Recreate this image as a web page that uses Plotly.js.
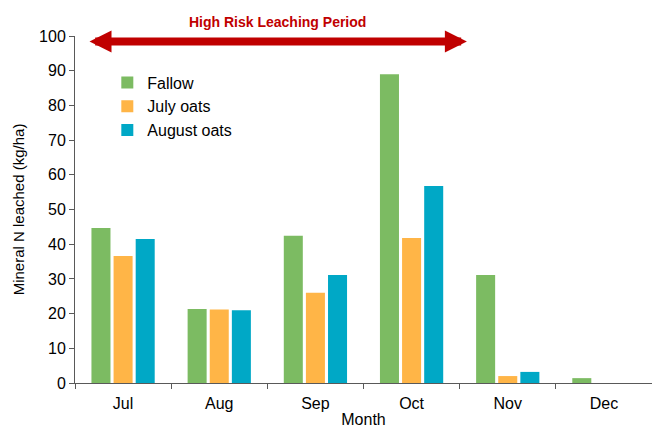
<!DOCTYPE html>
<html>
<head>
<meta charset="utf-8">
<script src="https://cdn.plot.ly/plotly-3.0.1.min.js"></script>
<style>html,body{margin:0;padding:0;background:#fff}#chart{width:652px;height:428px}</style>
</head>
<body>
<div id="chart"></div>
<script>
const months = ["Jul", "Aug", "Sep", "Oct", "Nov", "Dec"];
const fallow = [44.7, 21.3, 42.4, 89.0, 31.1, 1.4];
const julyOats = [36.6, 21.2, 26.0, 41.8, 2.0, 0];
const augustOats = [41.5, 21.0, 31.1, 56.8, 3.2, 0];
const seriesNames = ["Fallow", "July oats", "August oats"];
const colors = ["#7CBB62", "#FFB547", "#00A8C6"];

const data = [fallow, julyOats, augustOats].map((v, i) => ({
  type: "bar", x: months, y: v, name: seriesNames[i],
  marker: {color: colors[i]}, hoverinfo: "x+y+name"
}));

const fam = "Liberation Sans, Arial, sans-serif";
const layout = {
  width: 652, height: 428,
  margin: {l: 75, r: 0, t: 36, b: 45},
  paper_bgcolor: "#fff", plot_bgcolor: "#fff",
  font: {family: fam, size: 16, color: "#000"},
  barmode: "group", bargap: 0.31, bargroupgap: 0.14,
  showlegend: true,
  legend: {x: 0.056, y: 0.915, xanchor: "left", yanchor: "top", bgcolor: "rgba(0,0,0,0)",
           font: {family: fam, size: 16, color: "#000"}, tracegroupgap: 0},
  xaxis: {
    type: "category", range: [-0.5, 5.5], tickson: "boundaries",
    ticks: "outside", ticklen: 5, tickcolor: "#595959",
    showline: true, linecolor: "#595959", linewidth: 1,
    showgrid: false, zeroline: false, ticklabelstandoff: 6,
    tickfont: {family: fam, size: 16, color: "#000"},
    title: {text: "Month", standoff: 8, font: {family: fam, size: 16, color: "#000"}}
  },
  yaxis: {
    range: [0, 100], dtick: 10, ticks: "outside", ticklen: 5, tickcolor: "#595959",
    showline: true, linecolor: "#595959", linewidth: 1,
    showgrid: false, zeroline: false,
    tickfont: {family: fam, size: 16, color: "#000"},
    title: {text: "Mineral N leached (kg/ha)", standoff: 10, font: {family: fam, size: 15, color: "#000"}}
  },
  annotations: [
    {
      xref: "paper", yref: "paper", x: (277 - 75) / 577, y: 1.040, yanchor: "middle",
      text: "<b>High Risk Leaching Period</b>", showarrow: false,
      font: {family: fam, size: 14, color: "#C00000"}
    },
    {
      xref: "x", yref: "y", axref: "x", ayref: "y",
      x: 3.575, y: 98.4, ax: -0.365, ay: 98.4,
      text: "", showarrow: true, arrowside: "end+start",
      arrowhead: 2, arrowsize: 0.55, arrowwidth: 8, arrowcolor: "#C00000",
      standoff: 0, startstandoff: 0
    }
  ]
};

Plotly.newPlot("chart", data, layout, {displayModeBar: false, staticPlot: true});
</script>
</body>
</html>
